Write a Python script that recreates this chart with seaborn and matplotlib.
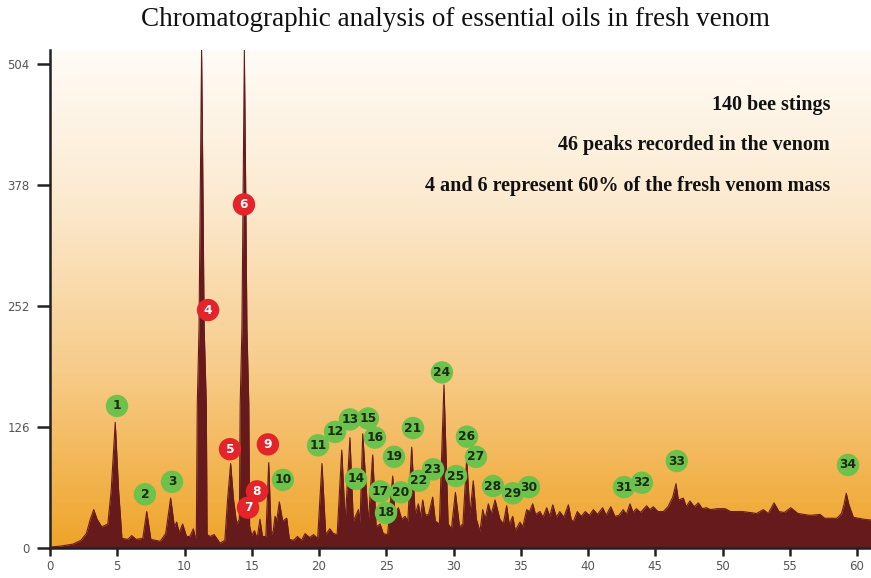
import numpy as np
import pandas as pd
import matplotlib
matplotlib.use("Agg")
import matplotlib.pyplot as plt
from matplotlib.colors import LinearSegmentedColormap
import seaborn as sns

# ---- data ----------------------------------------------------------------
trace_x = [0.0, 0.8, 1.7, 2.3, 2.7, 3.0, 3.25, 3.5, 3.85, 4.3, 4.55, 4.85, 5.1, 5.35,
           5.8, 6.07, 6.4, 6.9, 7.19, 7.5, 8.2, 8.6, 8.97, 9.25, 9.42, 9.6, 9.86,
           10.15, 10.4, 10.66, 10.8, 10.88,
           10.95, 11.08, 11.2, 11.27, 11.34, 11.46, 11.62, 11.68,
           11.9, 12.2, 12.64, 13.0, 13.2, 13.43, 13.65, 13.88,
           14.08, 14.14, 14.27, 14.39, 14.45, 14.52, 14.64, 14.78, 14.84,
           15.0, 15.2, 15.4, 15.61, 15.8, 16.05, 16.26, 16.45, 16.6, 16.73, 16.85,
           17.05, 17.3, 17.6, 17.8, 18.1, 18.4, 18.7, 18.96, 19.3, 19.6, 19.9,
           20.22, 20.5, 20.8, 21.07, 21.35, 21.69, 21.95, 22.3, 22.55, 22.93, 23.05,
           23.25, 23.67, 23.99, 24.25, 24.54, 24.78, 25.1, 25.48, 25.65, 25.9, 26.15,
           26.4, 26.6, 26.89, 27.15, 27.39, 27.55, 27.71, 27.9, 28.15, 28.45, 28.65,
           28.95, 29.29, 29.6, 29.85, 30.14, 30.45, 30.7, 30.98, 31.22, 31.47, 31.7,
           31.97, 32.17, 32.35, 32.59, 32.8, 33.09, 33.45, 33.7, 33.95, 34.15, 34.4,
           34.6, 34.94, 35.15, 35.44, 35.65, 35.89, 36.1, 36.43, 36.65, 36.93, 37.15,
           37.38, 37.65, 37.9, 38.2, 38.54, 38.75, 38.9, 39.2, 39.5, 39.8, 40.1, 40.4,
           40.7, 41.09, 41.35, 41.69, 42.0, 42.3, 42.62, 42.85, 43.12, 43.35, 43.6,
           43.9, 44.36, 44.6, 44.85, 45.2, 45.6, 45.95, 46.3, 46.54, 46.72, 47.09,
           47.3, 47.58, 47.9, 48.2, 48.5, 48.8, 49.1, 49.6, 50.19, 50.6, 51.5, 52.54,
           53.03, 53.4, 53.83, 54.2, 54.6, 55.07, 55.6, 56.5, 57.25, 57.6, 58.5,
           58.85, 59.03, 59.2, 59.4, 59.73, 60.5, 61.1]
trace_y = [1, 2, 4, 8, 15, 30, 40, 30, 22, 25, 60, 131, 60, 10,
           9, 13, 9, 10, 38, 9, 7, 15, 52, 22, 27, 16, 25,
           12, 12, 20, 11, 12,
           150, 230, 420, 519, 420, 230, 150, 14,
           12, 14, 5, 8, 50, 88, 50, 25,
           30, 150, 230, 420, 519, 420, 230, 150, 23,
           13, 18, 10, 30, 12, 12, 89, 14, 18, 33, 28,
           48, 28, 31, 9, 8, 12, 8, 15, 11, 14, 10,
           88, 14, 20, 15, 14, 102, 28, 115, 28, 40, 26,
           119, 27, 97, 22, 25, 15, 14, 75, 35, 42, 30,
           33, 28, 105, 35, 46, 32, 50, 34, 35, 53, 28,
           25, 170, 25, 20, 58, 22, 25, 93, 35, 70, 30,
           17, 40, 30, 46, 35, 50, 30, 25, 44, 24, 33,
           18, 27, 22, 40, 38, 46, 35, 38, 32, 42, 33,
           45, 32, 38, 32, 45, 30, 27, 38, 33, 38, 34, 40,
           35, 42, 34, 43, 33, 34, 40, 35, 46, 37, 41,
           37, 44, 40, 43, 38, 38, 43, 53, 67, 50, 52,
           43, 49, 43, 47, 41, 42, 40, 41, 41, 38, 38, 36,
           40, 36, 47, 38, 37, 42, 36, 34, 35, 31, 31,
           36, 45, 57, 45, 32, 30, 29]

peak_ids = [str(i) for i in range(1, 35)]
label_x = [4.98, 7.06, 9.07, 11.75, 13.38, 14.42, 14.72, 15.39, 16.2, 17.32,
           19.93, 21.19, 22.3, 22.75, 23.64, 24.16, 24.54, 24.98, 25.58, 26.1,
           26.99, 27.43, 28.48, 29.14, 30.19, 31.0, 31.67, 32.94, 34.42, 35.61,
           42.68, 44.01, 46.6, 59.33]
label_y = [148, 56, 69, 248, 103, 358, 42, 59, 108, 71,
           107, 121, 134, 72, 135, 115, 59, 36.5, 95, 58,
           125, 70, 82, 183, 75, 116, 95, 64.6, 57, 63.5,
           63.5, 68, 90.6, 86.5]
major_peaks = ["4", "5", "6", "7", "8", "9"]

y_ticks = [0, 126, 252, 378, 504]
x_ticks = list(range(0, 61, 5))

title = "Chromatographic analysis of essential oils in fresh venom"
notes = ["140 bee stings",
         "46 peaks recorded in the venom",
         "4 and 6 represent 60% of the fresh venom mass"]

# ---- styling --------------------------------------------------------------
sns.set_style("ticks")
plt.rcParams["font.family"] = ["DejaVu Sans"]

W, H = 871, 578
fig = plt.figure(figsize=(W / 100, H / 100), dpi=100)
ax = fig.add_axes([50 / W, 30 / H, 821 / W, 498 / H])

XMAX, YMAX = 61.04, 519
ax.set_xlim(0, XMAX)
ax.set_ylim(0, YMAX)

# background gradient inside the axes (white at top, orange at bottom)
cmap = LinearSegmentedColormap.from_list(
    "bg", [(0.0, "#fffcf7"), (0.3, "#fcead0"), (0.65, "#f7cb88"), (1.0, "#efa428")])
grad = np.linspace(0, 1, 256).reshape(-1, 1)
ax.imshow(grad, cmap=cmap, aspect="auto", extent=[0, XMAX, 0, YMAX],
          origin="upper", zorder=0)
ax.set_xlim(0, XMAX)
ax.set_ylim(0, YMAX)

trace = pd.DataFrame({"t": trace_x, "v": trace_y})
fill_col = "#661a1b"
ax.fill_between(trace["t"], 0, trace["v"], color=fill_col, lw=0, zorder=2)
sns.lineplot(data=trace, x="t", y="v", ax=ax, color=fill_col, lw=0.8,
             zorder=2, sort=False)

labels = pd.DataFrame({"x": label_x, "y": label_y, "id": peak_ids})
labels["kind"] = np.where(labels["id"].isin(major_peaks), "major", "minor")
sns.scatterplot(data=labels, x="x", y="y", hue="kind",
                palette={"major": "#e3242b", "minor": "#6cc24a"},
                s=260, edgecolor="none", legend=False, ax=ax, zorder=4)
for _, r in labels.iterrows():
    ax.text(r["x"], r["y"], r["id"], ha="center", va="center",
            fontsize=8.8, fontweight="bold",
            color="white" if r["kind"] == "major" else "#1c2a12", zorder=5)

# axes styling
ax.set_xticks(x_ticks)
ax.set_yticks(y_ticks)
ax.set_xlabel("")
ax.set_ylabel("")
for s in ["top", "right"]:
    ax.spines[s].set_visible(False)
for s in ["left", "bottom"]:
    ax.spines[s].set_color("#222222")
    ax.spines[s].set_linewidth(1.8)
    ax.spines[s].set_zorder(6)
ax.tick_params(axis="y", length=9.5, width=1.8, color="#222222",
               labelsize=8.5, labelcolor="#555555", pad=5)
ax.tick_params(axis="x", length=6, width=1.8, color="#222222",
               labelsize=8.5, labelcolor="#555555", pad=3)

fig.text(455 / W, 1 - 19 / H, title, ha="center", va="center",
         fontsize=19.5, family="Liberation Serif", color="#111111")
for txt, py in zip(notes, [105, 145, 186]):
    fig.text(830 / W, 1 - py / H, txt, ha="right", va="center",
             fontsize=14.5, fontweight="bold", family="Liberation Serif",
             color="#111111")

fig.savefig("out.png", dpi=100)
